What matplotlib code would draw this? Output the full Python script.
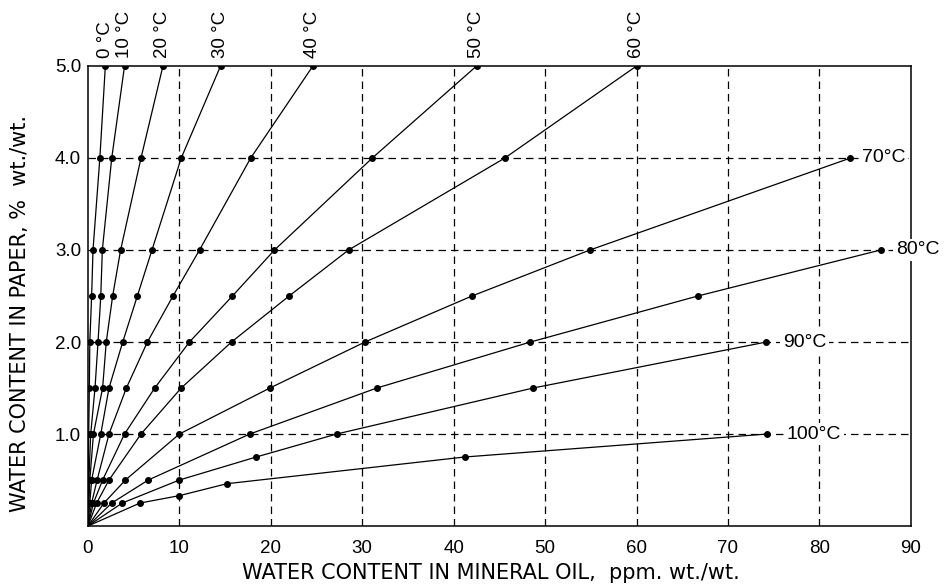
import matplotlib
matplotlib.use("Agg")
import matplotlib.pyplot as plt
import numpy as np

plt.rcParams['font.family'] = ['Liberation Sans', 'DejaVu Sans']

# ---- data (water content in paper % vs water content in oil ppm) ----
paper_levels = [0.25, 0.5, 1.0, 1.5, 2.0, 2.5, 3.0, 4.0, 5.0]
oil_0C  = [0.02, 0.04, 0.08, 0.15, 0.2, 0.4, 0.55, 1.3, 1.9]
oil_10C = [0.05, 0.1, 0.3, 0.77, 1.1, 1.4, 1.57, 2.6, 4.0]
oil_20C = [0.1, 0.2, 0.6, 1.6, 2.0, 2.7, 3.57, 5.8, 8.2]
oil_30C = [0.2, 0.4, 1.4, 2.3, 3.8, 5.4, 7.0, 10.2, 14.5]
oil_40C = [0.4, 1.0, 2.3, 4.2, 6.5, 9.3, 12.2, 17.8, 24.6]
oil_50C = [0.6, 1.6, 4.0, 7.3, 11.1, 15.8, 20.4, 31.1, 42.5]
oil_60C = [0.95, 2.3, 5.8, 10.2, 15.7, 22.0, 28.5, 45.6, 60.0]

paper_70C = [0.25, 0.5, 1.0, 1.5, 2.0, 2.5, 3.0, 4.0]
oil_70C   = [1.75, 4.1, 10.0, 19.9, 30.3, 42.0, 54.9, 83.4]
paper_80C = [0.25, 0.5, 1.0, 1.5, 2.0, 2.5, 3.0]
oil_80C   = [2.6, 6.6, 17.7, 31.6, 48.4, 66.7, 86.7]
paper_90C = [0.25, 0.5, 0.75, 1.0, 1.5, 2.0]
oil_90C   = [3.75, 10.0, 18.4, 27.2, 48.7, 74.2]
paper_100C = [0.25, 0.33, 0.46, 0.75, 1.0]
oil_100C   = [5.7, 10.0, 15.2, 41.2, 74.3]

top_series = [("0 °C", oil_0C), ("10 °C", oil_10C), ("20 °C", oil_20C),
              ("30 °C", oil_30C), ("40 °C", oil_40C), ("50 °C", oil_50C),
              ("60 °C", oil_60C)]
side_series = [("70°C", paper_70C, oil_70C), ("80°C", paper_80C, oil_80C),
               ("90°C", paper_90C, oil_90C), ("100°C", paper_100C, oil_100C)]

x_ticks = [0, 10, 20, 30, 40, 50, 60, 70, 80, 90]
y_ticks = [1.0, 2.0, 3.0, 4.0, 5.0]
y_tick_labels = ["1.0", "2.0", "3.0", "4.0", "5.0"]

xlabel = "WATER CONTENT IN MINERAL OIL,  ppm. wt./wt."
ylabel = "WATER CONTENT IN PAPER, %  wt./wt."

# ---- figure ----
fig = plt.figure(figsize=(9.48, 5.84), dpi=100)
ax = fig.add_axes([0.0928, 0.0993, 0.868, 0.7877])
ax.set_xlim(0, 90)
ax.set_ylim(0, 5.0)

# dashed grid
for gx in x_ticks[1:-1]:
    ax.axvline(gx, color='black', lw=0.9, ls=(0, (6, 4)), zorder=1)
for gy in y_ticks[:-1]:
    ax.axhline(gy, color='black', lw=0.9, ls=(0, (6, 4)), zorder=1)

line_kw = dict(color='black', lw=0.9, zorder=3)
mark_kw = dict(color='black', ls='none', marker='o', ms=4.0, zorder=4)

for name, xs in top_series:
    ax.plot(np.r_[0, xs], np.r_[0, paper_levels], **line_kw)
    ax.plot(xs, paper_levels, **mark_kw)
    ax.annotate(name, xy=(xs[-1], paper_levels[-1]), xytext=(0, 6),
                textcoords='offset points', rotation=90, ha='center',
                va='bottom', fontsize=13.5, annotation_clip=False)

offsets = [8, 11, 12, 14]
for (name, ys, xs), off in zip(side_series, offsets):
    ax.plot(np.r_[0, xs], np.r_[0, ys], **line_kw)
    ax.plot(xs, ys, **mark_kw)
    ax.annotate(name, xy=(xs[-1], ys[-1]), xytext=(off, 0),
                textcoords='offset points', ha='left', va='center',
                fontsize=14, annotation_clip=False, zorder=10,
                bbox=dict(boxstyle='square,pad=0.15', fc='white', ec='none'))

for s in ax.spines.values():
    s.set_linewidth(1.1)
    s.set_zorder(5)

ax.set_xticks(x_ticks)
ax.set_xticklabels([str(v) for v in x_ticks])
ax.set_yticks(y_ticks)
ax.set_yticklabels(y_tick_labels)
ax.tick_params(length=0, labelsize=13.5)
ax.tick_params(axis='x', pad=10)
ax.tick_params(axis='y', pad=5)
ax.set_xlabel(xlabel, fontsize=15, family=['DejaVu Sans'])
ax.set_ylabel(ylabel, fontsize=15, family=['DejaVu Sans'])
ax.xaxis.set_label_coords(0.49, -0.103)
ax.xaxis.label.set_va('center')
ax.yaxis.set_label_coords(-0.083, 0.463)
ax.yaxis.label.set_va('center')

fig.savefig("out.png", dpi=100)
